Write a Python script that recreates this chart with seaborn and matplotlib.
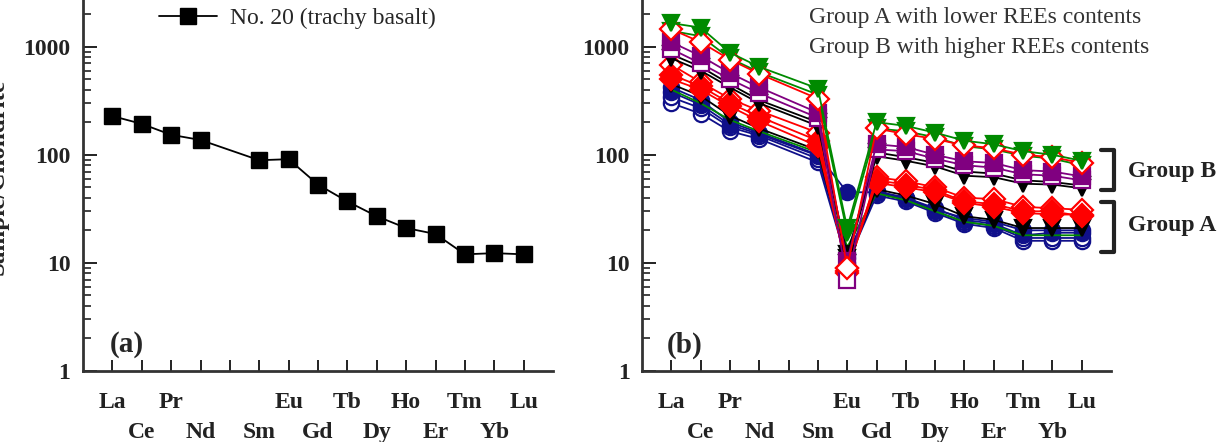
import numpy as np
import pandas as pd
import matplotlib
matplotlib.use("Agg")
import matplotlib.pyplot as plt
from matplotlib.ticker import LogLocator, NullFormatter
import seaborn as sns

sns.set_theme(style="white")
plt.rcParams['font.family'] = ['Liberation Serif', 'DejaVu Serif']

# REE order (Pm has no data but keeps its tick)
elements = ['La', 'Ce', 'Pr', 'Nd', 'Pm', 'Sm', 'Eu', 'Gd', 'Tb', 'Dy',
            'Ho', 'Er', 'Tm', 'Yb', 'Lu']
measured = ['La', 'Ce', 'Pr', 'Nd', 'Sm', 'Eu', 'Gd', 'Tb', 'Dy',
            'Ho', 'Er', 'Tm', 'Yb', 'Lu']

# panel (a): sample No. 20
no20 = [228, 193, 153, 137, 89, 91, 53, 37, 27, 21, 18.5, 12, 12.3, 12]

# panel (b): group A (lower REE)
a_blue_1 = [420, 320, 200, 160, 100, 45, 45, 40, 31, 26, 24, 20, 20, 20]
a_blue_2 = [300, 240, 165, 140, 85, 10, 42, 37, 29, 23, 21, 16, 16, 16]
a_blue_3 = [340, 270, 180, 150, 92, 12, 44, 39, 30, 24, 22, 17, 17, 17]
a_blue_4 = [380, 290, 190, 155, 98, 11, 46, 40, 32, 25, 23, 18, 19, 19]
a_black = [450, 350, 230, 175, 110, 10, 48, 42, 35, 27, 25, 21, 21, 21]
a_green = [400, 300, 210, 165, 105, 14, 44, 38, 30, 24, 22, 18, 18, 18]
a_red_1 = [500, 400, 280, 205, 120, 9, 58, 53, 47, 37, 35, 30, 30, 27]
a_red_2 = [550, 430, 300, 225, 135, 8.5, 55, 50, 45, 36, 33, 29, 28, 28]
a_red_open = [680, 470, 330, 255, 160, 8, 62, 57, 50, 40, 39, 33, 32, 31]

# panel (b): group B (higher REE)
b_black_1 = [850, 650, 450, 320, 200, 11, 97, 88, 78, 64, 62, 54, 53, 49]
b_black_2 = [780, 600, 420, 300, 185, 12, 105, 95, 84, 70, 67, 58, 56, 52]
b_purple = [1100, 820, 570, 420, 245, 10.5, 125, 118, 100, 87, 84, 72, 70, 63]
b_purple_open = [950, 700, 500, 370, 220, 7, 112, 108, 92, 80, 76, 66, 64, 58]
b_red_open = [1450, 1100, 760, 560, 330, 9, 175, 155, 140, 122, 115, 100, 95, 84]
b_green_1 = [1650, 1500, 880, 650, 410, 21, 200, 185, 160, 135, 125, 108, 100, 88]
b_green_2 = [1400, 1250, 780, 580, 360, 19, 175, 165, 145, 120, 112, 98, 92, 80]

BLUE, RED, GREEN, PURPLE, BLACK = '#10108a', '#ff0000', '#008a00', '#800080', '#000000'

# (values, color, marker, filled) in drawing order
series_b = [
    (a_blue_2, BLUE, 'o', False),
    (a_blue_3, BLUE, 'o', False),
    (a_blue_4, BLUE, 'o', True),
    (a_blue_1, BLUE, 'o', True),
    (a_green, GREEN, None, True),
    (a_black, BLACK, 'v', True),
    (a_red_open, RED, 'D', False),
    (a_red_2, RED, 'D', True),
    (a_red_1, RED, 'D', True),
    (b_black_1, BLACK, 'v', True),
    (b_black_2, BLACK, 'v', True),
    (b_purple_open, PURPLE, 's', False),
    (b_purple, PURPLE, 's', True),
    (b_green_2, GREEN, 'v', True),
    (b_red_open, RED, 'D', False),
    (b_green_1, GREEN, 'v', True),
]

xpos = {el: i for i, el in enumerate(elements)}
mx = [xpos[el] for el in measured]

W, H = 1224, 442
fig = plt.figure(figsize=(W / 100, H / 100), dpi=100)
ax_a = fig.add_axes([83 / W, 1 - 371 / H, 470 / W, 371 / H])
ax_b = fig.add_axes([642 / W, 1 - 371 / H, 469 / W, 371 / H])

# panel a
sns.lineplot(x=mx, y=no20, ax=ax_a, color='black', marker='s', markersize=12,
             markeredgecolor='black', markeredgewidth=1, linewidth=1.3,
             label='No. 20 (trachy basalt)')

# panel b
for vals, col, mk, filled in series_b:
    sns.lineplot(x=mx, y=vals, ax=ax_b, color=col, marker=mk, markersize=11,
                 markerfacecolor=col if filled else 'white',
                 markeredgecolor=col, markeredgewidth=1.6, linewidth=1.3,
                 legend=False)

row1 = list(range(0, len(elements), 2))
row2 = list(range(1, len(elements), 2))
row1_labels = [elements[i] if elements[i] != 'Pm' else '' for i in row1]
row2_labels = [elements[i] for i in row2]

for ax in (ax_a, ax_b):
    ax.set_yscale('log')
    ax.set_ylim(1, 2700)
    ax.set_xlim(-1, 15)
    ax.set_yticks([1, 10, 100, 1000])
    ax.set_yticklabels(['1', '10', '100', '1000'], fontsize=17, fontweight='bold')
    ax.yaxis.set_minor_locator(LogLocator(base=10, subs=np.arange(2, 10)))
    ax.yaxis.set_minor_formatter(NullFormatter())
    ax.set_xticks(row1)
    ax.set_xticklabels(row1_labels, fontsize=17, fontweight='bold')
    ax.set_xticks(row2, minor=True)
    ax.set_xticklabels(row2_labels, minor=True, fontsize=17, fontweight='bold')
    ax.tick_params(axis='y', which='major', direction='in', length=10, width=1.4,
                   pad=9, left=True, colors='#222222')
    ax.tick_params(axis='y', which='minor', direction='in', length=6, width=1.2, left=True,
                   colors='#222222')
    ax.tick_params(axis='x', which='major', direction='in', length=8, width=1.4,
                   pad=15, bottom=True, colors='#222222')
    ax.tick_params(axis='x', which='minor', direction='in', length=8, width=1.4,
                   pad=36.5, bottom=True, colors='#222222')
    for side in ('top', 'right'):
        ax.spines[side].set_visible(False)
    for side in ('left', 'bottom'):
        ax.spines[side].set_linewidth(2)
        ax.spines[side].set_color('#333333')
    ax.set_xlabel('')
    ax.set_ylabel('')

ax_a.legend(loc='center left', bbox_to_anchor=(159 / W, 1 - 18 / H),
            bbox_transform=fig.transFigure, frameon=False, fontsize=17,
            handlelength=2.45, handletextpad=0.55, borderpad=0, borderaxespad=0)

ax_a.text(110 / W, 1 - 345 / H, '(a)', transform=fig.transFigure, fontsize=21,
          fontweight='bold', va='center', ha='left')
ax_b.text(667 / W, 1 - 345 / H, '(b)', transform=fig.transFigure, fontsize=21,
          fontweight='bold', va='center', ha='left')

fig.text(9 / W, 1 - 177 / H, 'Sample/Chondrite', rotation=90, fontsize=18,
         fontweight='bold', ha='right', va='center')

fig.text(809 / W, 1 - 18 / H, 'Group A with lower REEs contents', fontsize=17,
         va='center', ha='left', color='#333333')
fig.text(809 / W, 1 - 48 / H, 'Group B with higher REEs contents', fontsize=17,
         va='center', ha='left', color='#333333')

# brackets for the two groups
for (ytop, ybot) in ((150, 190), (202, 252)):
    xs = [1101 / W, 1114 / W, 1114 / W, 1101 / W]
    ys = [1 - ytop / H, 1 - ytop / H, 1 - ybot / H, 1 - ybot / H]
    fig.add_artist(plt.Line2D(xs, ys, color='#222222', linewidth=3))
fig.text(1128 / W, 1 - 172 / H, 'Group B', fontsize=17, fontweight='bold',
         va='center', ha='left', color='#222222')
fig.text(1128 / W, 1 - 225 / H, 'Group A', fontsize=17, fontweight='bold',
         va='center', ha='left', color='#222222')

fig.savefig('out.png', dpi=100)
